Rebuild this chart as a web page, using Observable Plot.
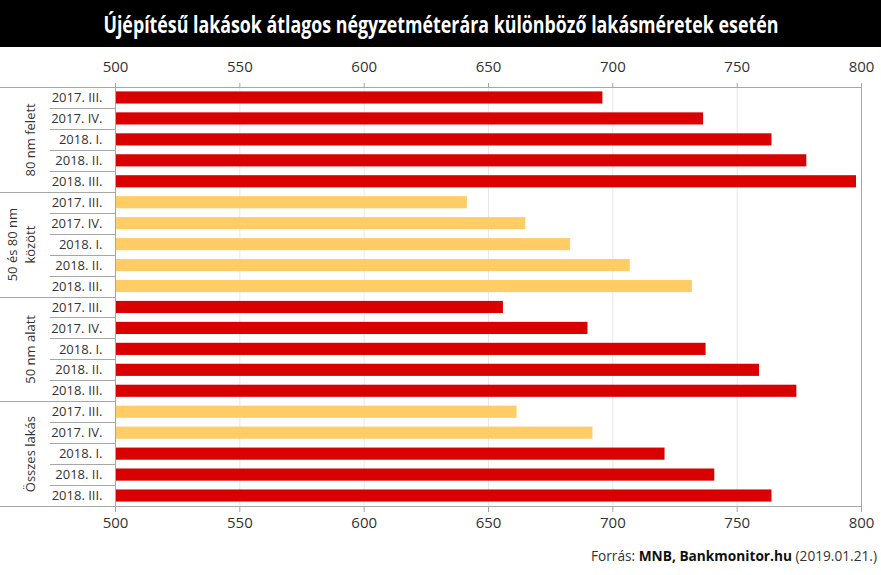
<!DOCTYPE html>
<html><head><meta charset="utf-8">
<script src="https://cdn.jsdelivr.net/npm/d3@7"></script>
<script src="https://cdn.jsdelivr.net/npm/@observablehq/plot@0.6"></script>
<style>
body{margin:0;background:#fff;font-family:"Open Sans",sans-serif;}
#title{background:#000;height:47px;display:flex;align-items:center;justify-content:center;overflow:hidden}
#title span{color:#fff;font-family:"Open Sans";font-weight:700;font-size:23px;display:inline-block;white-space:nowrap;transform-origin:center}
#chart svg{display:block}
#caption{text-align:right;padding-right:4px;font-size:13.7px;color:#333;margin-top:4px}
#caption b{color:#111}
</style></head><body>
<div id="title"><span>Újépítésű lakások átlagos négyzetméterára különböző lakásméretek esetén</span></div>
<div id="chart"></div>
<div id="caption">Forrás: <b>MNB, Bankmonitor.hu</b> (2019.01.21.)</div>
<script>
const groups = ["80 nm felett", "50 és 80 nm\nközött", "50 nm alatt", "Összes lakás"];
const periods = ["2017. III.", "2017. IV.", "2018. I.", "2018. II.", "2018. III."];
const values80plus  = [696, 736.5, 764, 778, 798];
const values50to80  = [641.5, 665, 683, 707, 732];
const values50minus = [656, 690, 737.5, 759, 774];
const valuesAll     = [661.5, 692, 721, 741, 764];
const tones80plus  = ["A","A","A","A","A"];
const tones50to80  = ["B","B","B","B","B"];
const tones50minus = ["A","A","A","A","A"];
const tonesAll     = ["B","B","A","A","A"];
const xDomain = [500, 800];
const xTicks = [500, 550, 600, 650, 700, 750, 800];

const seriesValues = [values80plus, values50to80, values50minus, valuesAll];
const seriesTones = [tones80plus, tones50to80, tones50minus, tonesAll];
const rows = [];
groups.forEach((g, gi) => periods.forEach((p, pi) => rows.push({
  group: g, gi, period: p, pi, key: g + "|" + p, value: seriesValues[gi][pi], tone: seriesTones[gi][pi]
})));
const groupRows = groups.map((g, gi) => ({group: g, key: g + "|" + periods[2]}));

const lineColor = "#a6a6a6";
function frameLines(index, scales, values, dims) {
  const g = d3.create("svg:g");
  const top = dims.marginTop, bottom = dims.height - dims.marginBottom;
  const left = dims.marginLeft, right = dims.width - dims.marginRight;
  const step = typeof scales.y.step === "function" ? scales.y.step() : (bottom - top) / rows.length;
  const bw = typeof scales.y.bandwidth === "function" ? scales.y.bandwidth() : step * 0.58;
  const line = (x1, y1, x2, y2, c = lineColor) => g.append("line")
    .attr("x1", x1).attr("y1", y1).attr("x2", x2).attr("y2", y2)
    .attr("stroke", c).attr("stroke-width", 1);
  rows.forEach((r, i) => {
    if (i === 0) return;
    const yb = Math.round(scales.y(r.key) + bw / 2 - step / 2) + 0.5;
    if (r.pi === 0) line(0, yb, left, yb);
    else line(50, yb, left, yb);
  });
  line(0, top + 0.5, right, top + 0.5);
  line(0, bottom + 0.5, right, bottom + 0.5);
  line(left + 0.5, top, left + 0.5, bottom);
  line(right + 0.5, top, right + 0.5, bottom);
  return g.node();
}

const chart = Plot.plot({
  width: 881, height: 495,
  marginTop: 40, marginBottom: 36, marginLeft: 115, marginRight: 20,
  style: {fontFamily: "Open Sans", fontSize: "13px", color: "#333", background: "#fff"},
  x: {domain: xDomain},
  y: {domain: rows.map(d => d.key), paddingInner: 0.42, paddingOuter: 0.21, round: false},
  color: {domain: ["A", "B"], range: ["#d90000", "#ffcc66"]},
  marks: [
    Plot.gridX(xTicks.slice(1, -1), {stroke: "#e8e8e8", strokeOpacity: 1}),
    Plot.barX(rows, {x1: xDomain[0], x2: "value", y: "key", fill: "tone"}),
    frameLines,
    Plot.axisX({anchor: "top", ticks: xTicks, tickSize: 5, tickPadding: 11, fontSize: 15, stroke: lineColor, fill: "#333", label: null}),
    Plot.axisX({anchor: "bottom", ticks: xTicks, tickSize: 6, tickPadding: 5, fontSize: 15, stroke: lineColor, fill: "#333", label: null}),
    Plot.axisY({tickSize: 0, tickPadding: 13, tickFormat: k => k.split("|")[1], fontSize: 13, fill: "#333", label: null}),
    Plot.text(groupRows, {y: "key", text: "group", frameAnchor: "left", dx: -81, rotate: -90,
      textAnchor: "middle", lineAnchor: "bottom", lineHeight: 1.35, fontSize: 13, fill: "#333"})
  ]
});
document.getElementById("chart").append(chart);

const span = document.querySelector("#title span");
function fitTitle() {
  const w = span.offsetWidth;
  if (w > 0) span.style.transform = `scaleX(${675 / w})`;
}
fitTitle();
if (document.fonts && document.fonts.ready) document.fonts.ready.then(fitTitle);
</script>
</body></html>
